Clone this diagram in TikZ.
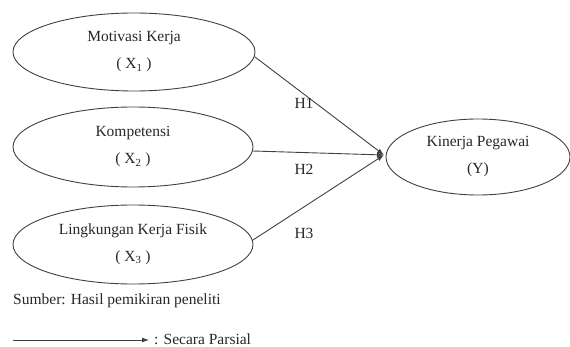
\documentclass[tikz,border=0pt]{standalone}
\usepackage{fontspec}
\setmainfont{Liberation Serif}
\usetikzlibrary{shapes.geometric,arrows.meta}
\begin{document}
\begin{tikzpicture}[x=1pt,y=-1pt,
  var/.style={ellipse,draw=black!75,line width=0.9pt,inner sep=0pt,align=center,
    font=\fontsize{15.5}{27}\selectfont},
  conn/.style={draw=black!75,line width=0.9pt,-{Latex[length=7pt,width=5pt]}},
  lbl/.style={font=\fontsize{15.5}{18}\selectfont,inner sep=0pt},
  every node/.style={text=black!85}]
\useasboundingbox (0,0) rectangle (570,347);
\node[var,minimum width=242pt,minimum height=78pt] (x1) at (134,52)
  {Motivasi Kerja\\( X\textsubscript{1} )};
\node[var,minimum width=240pt,minimum height=80pt] (x2) at (133,147)
  {Kompetensi\\( X\textsubscript{2} )};
\node[var,minimum width=240pt,minimum height=79pt] (x3) at (133,244.5)
  {Lingkungan Kerja Fisik\\( X\textsubscript{3} )};
\node[var,minimum width=184pt,minimum height=76pt] (y) at (478,157)
  {Kinerja Pegawai\\(Y)};
\coordinate (tip) at (384,155);
\draw[conn] (255,57) -- (tip);
\draw[conn] (253,151) -- (tip);
\draw[conn] (253,240) -- (tip);
\node[lbl] (h1) at (304,103) {H1};
\node[lbl] (h2) at (304,169) {H2};
\node[lbl] (h3) at (304,233) {H3};
\node[lbl,anchor=west] (src) at (13,301) {Sumber: Hasil pemikiran peneliti};
\coordinate (la) at (13,340);
\coordinate (lb) at (149,340);
\draw[conn] (la) -- (lb);
\node[lbl,anchor=west] (leg) at (154,339) {: Secara Parsial};
\end{tikzpicture}
\end{document}
